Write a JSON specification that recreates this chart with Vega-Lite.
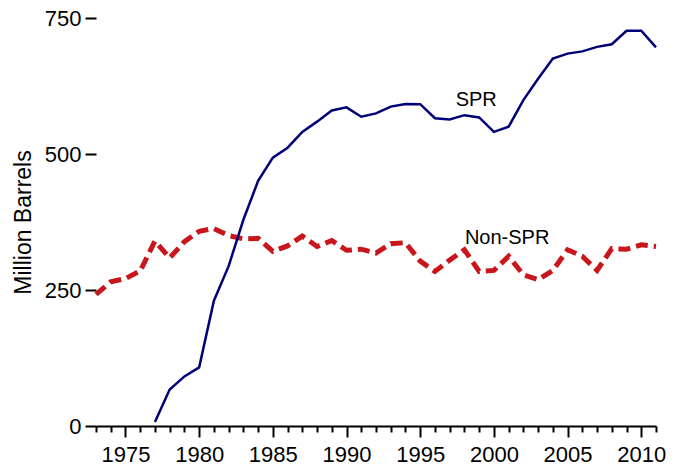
{
  "$schema": "https://vega.github.io/schema/vega-lite/v6.json",
  "autosize": "none",
  "width": 560,
  "height": 408,
  "padding": {"left": 96, "top": 18, "right": 25, "bottom": 40},
  "background": "white",
  "config": {
    "view": {"stroke": null},
    "font": "Liberation Sans",
    "axis": {"grid": false, "labelFont": "Liberation Sans", "titleFont": "Liberation Sans", "labelColor": "black", "titleColor": "black", "tickColor": "black", "domainColor": "black"}
  },
  "datasets": {
    "stocks": [
      {"year": 1973, "series": "Non-SPR", "value": 242},
      {"year": 1974, "series": "Non-SPR", "value": 265},
      {"year": 1975, "series": "Non-SPR", "value": 271},
      {"year": 1976, "series": "Non-SPR", "value": 285},
      {"year": 1977, "series": "Non-SPR", "value": 340},
      {"year": 1978, "series": "Non-SPR", "value": 309},
      {"year": 1979, "series": "Non-SPR", "value": 339},
      {"year": 1980, "series": "Non-SPR", "value": 358},
      {"year": 1981, "series": "Non-SPR", "value": 363},
      {"year": 1982, "series": "Non-SPR", "value": 350},
      {"year": 1983, "series": "Non-SPR", "value": 344},
      {"year": 1984, "series": "Non-SPR", "value": 345},
      {"year": 1985, "series": "Non-SPR", "value": 321},
      {"year": 1986, "series": "Non-SPR", "value": 331},
      {"year": 1987, "series": "Non-SPR", "value": 349},
      {"year": 1988, "series": "Non-SPR", "value": 330},
      {"year": 1989, "series": "Non-SPR", "value": 341},
      {"year": 1990, "series": "Non-SPR", "value": 323},
      {"year": 1991, "series": "Non-SPR", "value": 325},
      {"year": 1992, "series": "Non-SPR", "value": 318},
      {"year": 1993, "series": "Non-SPR", "value": 335},
      {"year": 1994, "series": "Non-SPR", "value": 337},
      {"year": 1995, "series": "Non-SPR", "value": 303},
      {"year": 1996, "series": "Non-SPR", "value": 284},
      {"year": 1997, "series": "Non-SPR", "value": 305},
      {"year": 1998, "series": "Non-SPR", "value": 324},
      {"year": 1999, "series": "Non-SPR", "value": 284},
      {"year": 2000, "series": "Non-SPR", "value": 286},
      {"year": 2001, "series": "Non-SPR", "value": 312},
      {"year": 2002, "series": "Non-SPR", "value": 278},
      {"year": 2003, "series": "Non-SPR", "value": 269},
      {"year": 2004, "series": "Non-SPR", "value": 286},
      {"year": 2005, "series": "Non-SPR", "value": 324},
      {"year": 2006, "series": "Non-SPR", "value": 312},
      {"year": 2007, "series": "Non-SPR", "value": 286},
      {"year": 2008, "series": "Non-SPR", "value": 326},
      {"year": 2009, "series": "Non-SPR", "value": 325},
      {"year": 2010, "series": "Non-SPR", "value": 333},
      {"year": 2011, "series": "Non-SPR", "value": 330},
      {"year": 1977, "series": "SPR", "value": 7.5},
      {"year": 1978, "series": "SPR", "value": 66.9},
      {"year": 1979, "series": "SPR", "value": 91.2},
      {"year": 1980, "series": "SPR", "value": 107.8},
      {"year": 1981, "series": "SPR", "value": 230.3},
      {"year": 1982, "series": "SPR", "value": 293.8},
      {"year": 1983, "series": "SPR", "value": 379.1},
      {"year": 1984, "series": "SPR", "value": 450.5},
      {"year": 1985, "series": "SPR", "value": 493.3},
      {"year": 1986, "series": "SPR", "value": 511.6},
      {"year": 1987, "series": "SPR", "value": 540.6},
      {"year": 1988, "series": "SPR", "value": 559.5},
      {"year": 1989, "series": "SPR", "value": 579.9},
      {"year": 1990, "series": "SPR", "value": 585.7},
      {"year": 1991, "series": "SPR", "value": 568.5},
      {"year": 1992, "series": "SPR", "value": 574.7},
      {"year": 1993, "series": "SPR", "value": 587.1},
      {"year": 1994, "series": "SPR", "value": 591.7},
      {"year": 1995, "series": "SPR", "value": 591.6},
      {"year": 1996, "series": "SPR", "value": 565.8},
      {"year": 1997, "series": "SPR", "value": 563.4},
      {"year": 1998, "series": "SPR", "value": 571.4},
      {"year": 1999, "series": "SPR", "value": 567.2},
      {"year": 2000, "series": "SPR", "value": 540.7},
      {"year": 2001, "series": "SPR", "value": 550.2},
      {"year": 2002, "series": "SPR", "value": 599.1},
      {"year": 2003, "series": "SPR", "value": 638.4},
      {"year": 2004, "series": "SPR", "value": 675.6},
      {"year": 2005, "series": "SPR", "value": 684.5},
      {"year": 2006, "series": "SPR", "value": 688.6},
      {"year": 2007, "series": "SPR", "value": 696.9},
      {"year": 2008, "series": "SPR", "value": 701.8},
      {"year": 2009, "series": "SPR", "value": 726.6},
      {"year": 2010, "series": "SPR", "value": 726.5},
      {"year": 2011, "series": "SPR", "value": 695.9}
    ],
    "labels": [
      {"year": 1998.8, "value": 599, "label": "SPR"},
      {"year": 2000.9, "value": 345, "label": "Non-SPR"}
    ]
  },
  "encoding": {
    "x": {
      "field": "year", "type": "quantitative",
      "scale": {"domain": [1973, 2011], "nice": false, "zero": false},
      "axis": {
        "title": null,
        "values": [1973,1974,1975,1976,1977,1978,1979,1980,1981,1982,1983,1984,1985,1986,1987,1988,1989,1990,1991,1992,1993,1994,1995,1996,1997,1998,1999,2000,2001,2002,2003,2004,2005,2006,2007,2008,2009,2010,2011],
        "labelExpr": "datum.value % 5 === 0 ? datum.value + '' : ''",
        "tickSize": {"condition": {"test": "datum.value % 5 === 0", "value": 11}, "value": 6},
        "tickWidth": 2,
        "domainWidth": 2,
        "labelFontSize": 22,
        "labelPadding": 7,
        "labelOverlap": false,
        "labelFlush": false
      }
    },
    "y": {
      "field": "value", "type": "quantitative",
      "scale": {"domain": [0, 750], "nice": false},
      "axis": {
        "title": "Million Barrels",
        "values": [0, 250, 500, 750],
        "domain": false,
        "tickSize": 11,
        "tickWidth": 2,
        "labelFontSize": 22,
        "labelPadding": 4,
        "titleFontSize": 23,
        "titleFontWeight": "normal",
        "titlePadding": 9
      }
    }
  },
  "layer": [
    {
      "data": {"name": "stocks"},
      "transform": [{"filter": "datum.series === 'Non-SPR'"}],
      "mark": {"type": "line", "color": "#c8161c", "strokeWidth": 5, "strokeDash": [12, 6], "strokeCap": "butt"}
    },
    {
      "data": {"name": "stocks"},
      "transform": [{"filter": "datum.series === 'SPR'"}],
      "mark": {"type": "line", "color": "#000077", "strokeWidth": 2.5}
    },
    {
      "data": {"name": "labels"},
      "mark": {"type": "text", "font": "Liberation Sans", "fontSize": 20, "color": "black", "align": "center", "baseline": "middle"},
      "encoding": {"text": {"field": "label"}}
    }
  ]
}
